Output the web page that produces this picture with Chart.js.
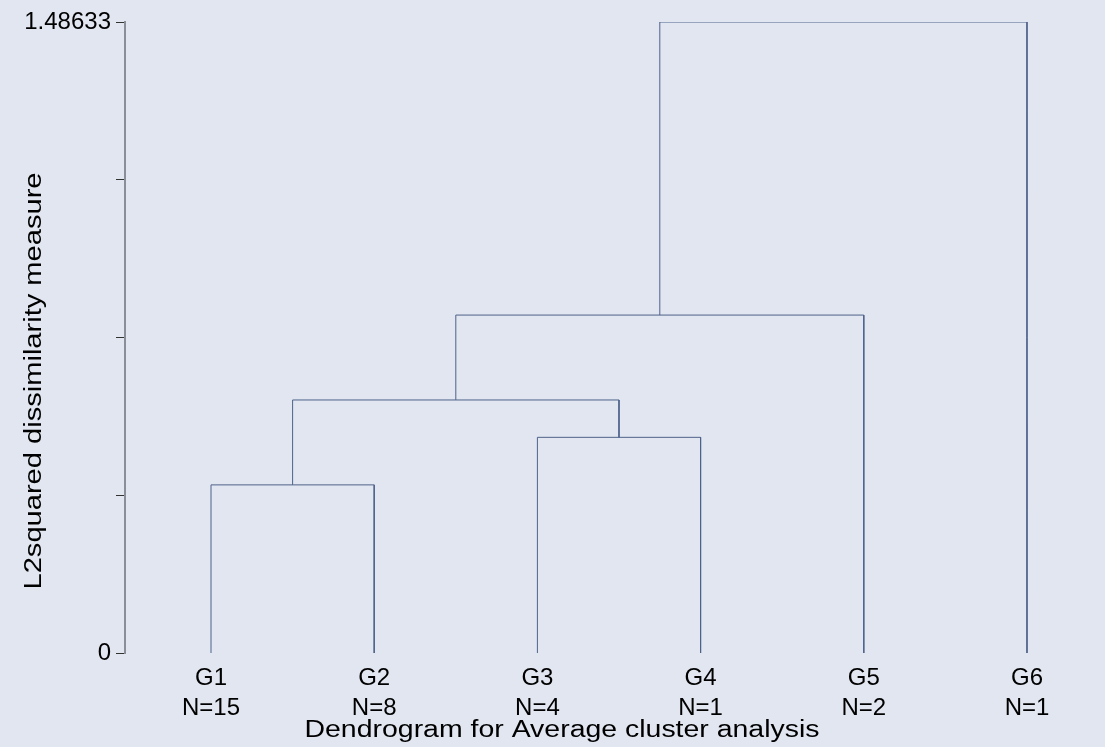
<!DOCTYPE html>
<html>
<head>
<meta charset="utf-8">
<script src="https://cdn.jsdelivr.net/npm/chart.js@4.4.1/dist/chart.umd.min.js"></script>
<style>
  body { margin: 0; background: #e1e6f0; }
  canvas { display: block; }
</style>
</head>
<body>
<canvas id="dendro" width="1105" height="747"></canvas>
<script>
// leaves of the dendrogram
const groups = ["G1", "G2", "G3", "G4", "G5", "G6"];
const counts = [15, 8, 4, 1, 2, 1];

// merges, scipy-style: ids 0-5 are leaves, 6+ are earlier merges
const mergeA = [0, 2, 6, 8, 9];
const mergeB = [1, 3, 7, 4, 5];
const mergeHeight = [0.396, 0.508, 0.596, 0.796, 1.48633];

const yMax = 1.48633;
const yTicks = [0, yMax / 4, yMax / 2, yMax * 3 / 4, yMax];

const lineColor = "#4f628a";
const fontFamily = "'Liberation Sans', Arial, sans-serif";

// x position and height of every node
const nodeX = groups.map((g, i) => i + 1);
const nodeH = groups.map(() => 0);
mergeA.forEach((a, k) => {
  nodeX.push((nodeX[a] + nodeX[mergeB[k]]) / 2);
  nodeH.push(mergeHeight[k]);
});

const datasets = mergeA.map((a, k) => {
  const b = mergeB[k];
  const h = mergeHeight[k];
  return {
    data: [
      { x: nodeX[a], y: nodeH[a] },
      { x: nodeX[a], y: h },
      { x: nodeX[b], y: h },
      { x: nodeX[b], y: nodeH[b] }
    ],
    showLine: true,
    borderColor: lineColor,
    borderWidth: 1,
    pointRadius: 0,
    fill: false
  };
});

// axis titles drawn at fixed spots, stretched to the reference width
const titlePlugin = {
  id: "titles",
  afterDraw(chart) {
    const ctx = chart.ctx;
    function txt(s, x, y, w, rot) {
      ctx.save();
      ctx.font = "23px " + fontFamily;
      ctx.fillStyle = "#000";
      ctx.textAlign = "center";
      ctx.textBaseline = "middle";
      ctx.translate(x, y);
      if (rot) ctx.rotate(-Math.PI / 2);
      const m = ctx.measureText(s).width;
      ctx.scale(w / m, 1);
      ctx.fillText(s, 0, 0);
      ctx.restore();
    }
    txt("Dendrogram for Average cluster analysis", 562, 731, 515, false);
    txt("L2squared dissimilarity measure", 35, 381, 417, true);
  }
};

new Chart(document.getElementById("dendro"), {
  type: "scatter",
  data: { datasets: datasets },
  plugins: [titlePlugin],
  options: {
    responsive: false,
    animation: false,
    layout: { padding: { top: 22, right: 0, left: 0, bottom: 0 } },
    plugins: {
      legend: { display: false },
      tooltip: { enabled: false }
    },
    scales: {
      x: {
        type: "linear",
        min: 0.473,
        max: 6.478,
        afterBuildTicks: (scale) => {
          scale.ticks = groups.map((g, i) => ({ value: i + 1 }));
        },
        afterFit: (scale) => { scale.height = 94; },
        grid: { display: false },
        border: { display: false },
        ticks: {
          autoSkip: false,
          maxRotation: 0,
          padding: 2,
          color: "#000",
          font: { size: 24, family: fontFamily, lineHeight: 1.25 },
          callback: (v) => {
            const i = Math.round(v) - 1;
            return [groups[i], "N=" + counts[i]];
          }
        }
      },
      y: {
        min: 0,
        max: yMax,
        afterBuildTicks: (scale) => {
          scale.ticks = yTicks.map((v) => ({ value: v }));
        },
        afterFit: (scale) => { scale.width = 125; },
        grid: {
          drawOnChartArea: false,
          drawTicks: true,
          tickLength: 9,
          tickColor: "#333",
          tickWidth: 1
        },
        border: { display: true, color: "#8a8e98", width: 2 },
        ticks: {
          padding: 5,
          color: "#000",
          font: { size: 24, family: fontFamily },
          callback: (v) => {
            if (v === 0) return "0";
            if (v === yMax) return "1.48633";
            return "";
          }
        }
      }
    }
  }
});
</script>
</body>
</html>
